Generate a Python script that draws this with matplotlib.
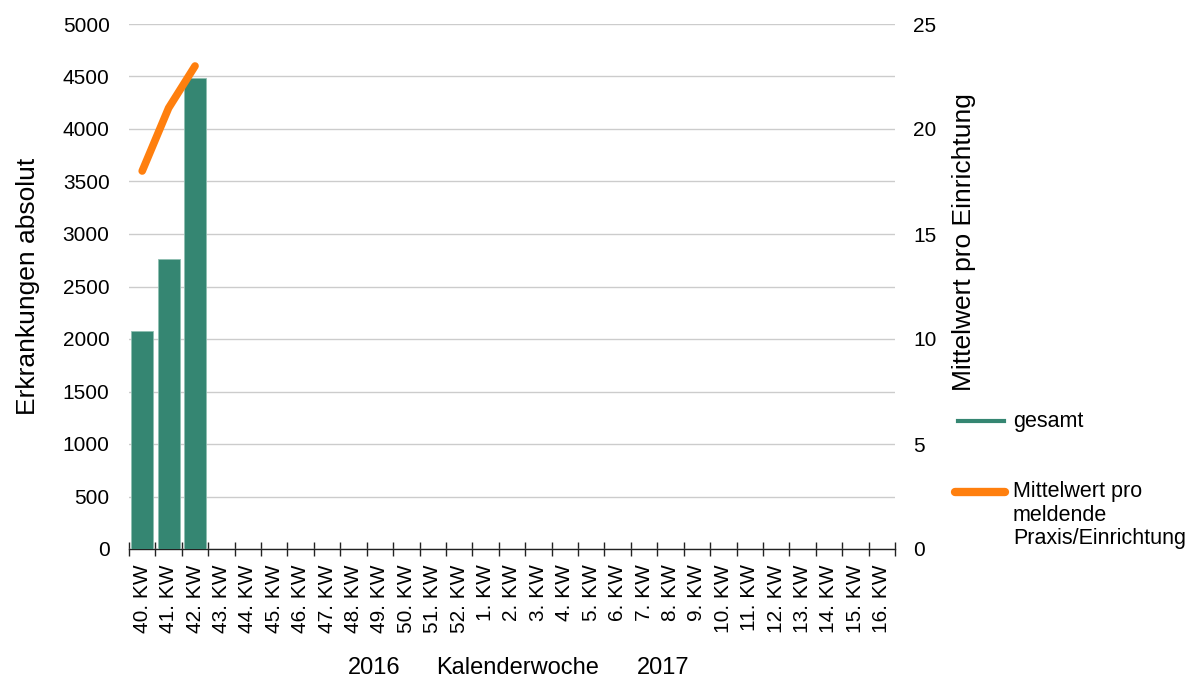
import numpy as np
import matplotlib.pyplot as plt
from matplotlib.lines import Line2D

plt.rcParams['font.family'] = ['Liberation Sans', 'DejaVu Sans']

# Daten
wochen = [str(w) + ". KW" for w in list(range(40, 53)) + list(range(1, 17))]
gesamt = [2080, 2760, 4490]
mittelwert = [18, 21, 23]

farbe_bar = '#358672'
farbe_linie = '#FF7F0E'

W, H = 1193, 682
fig = plt.figure(figsize=(W / 100, H / 100), dpi=100)
ax = fig.add_axes([129 / W, 1 - 549 / H, (895 - 129) / W, (549 - 24) / H])
ax2 = ax.twinx()

x = np.arange(len(wochen))
ax.bar(x[:len(gesamt)], gesamt, width=0.84, color=farbe_bar, edgecolor='#8fbfb2', linewidth=0.6, zorder=3)
ax2.plot(x[:len(mittelwert)], mittelwert, color=farbe_linie, linewidth=5.5, solid_capstyle='round', zorder=4)

ax.set_xlim(-0.5, len(wochen) - 0.5)
ax.set_ylim(0, 5000)
ax.set_yticks(np.arange(0, 5001, 500))
ax2.set_ylim(0, 25)
ax2.set_yticks(np.arange(0, 26, 5))

ax.grid(axis='y', color='#cccccc', linewidth=1, zorder=0)
ax.set_axisbelow(True)

for a in (ax, ax2):
    for s in ('top', 'left', 'right', 'bottom'):
        a.spines[s].set_visible(False)

ax.spines['bottom'].set_visible(True)
ax.spines['bottom'].set_color('#222222')
ax.spines['bottom'].set_linewidth(1)

ax.set_xticks(x)
ax.set_xticklabels(wochen, rotation=90, fontsize=15)
ax.set_xticks(np.arange(-0.5, len(wochen)), minor=True)
ax.tick_params(axis='x', which='major', length=0, pad=11)
ax.tick_params(axis='x', which='minor', length=10, direction='inout', color='#222222', width=1)
ax.tick_params(axis='y', length=0, labelsize=15, pad=14)
ax2.tick_params(axis='y', length=0, labelsize=15, pad=13)

ax.set_ylabel("Erkrankungen absolut", fontsize=19, labelpad=16)
ax2.set_ylabel("Mittelwert pro Einrichtung", fontsize=19, va='center')
ax2.yaxis.set_label_coords((964 - 129) / 766, (549 - 242) / 525)

# Achsentitel unten
for txt, xp in (("2016", 374), ("Kalenderwoche", 518), ("2017", 663)):
    fig.text(xp / W, 1 - 668 / H, txt, fontsize=17, ha='center', va='center')

# Legende
fig.add_artist(Line2D([958 / W, 1004 / W], [1 - 421 / H] * 2, color=farbe_bar, linewidth=3,
                      transform=fig.transFigure))
fig.add_artist(Line2D([955 / W, 1005 / W], [1 - 492 / H] * 2, color=farbe_linie, linewidth=6,
                      solid_capstyle='round', transform=fig.transFigure))
fig.text(1013 / W, 1 - 421 / H, "gesamt", fontsize=15.5, ha='left', va='center')
fig.text(1013 / W, 1 - 481 / H, "Mittelwert pro\nmeldende\nPraxis/Einrichtung", fontsize=15.5,
         ha='left', va='top', linespacing=1.17)

fig.savefig("out.png", dpi=100)
